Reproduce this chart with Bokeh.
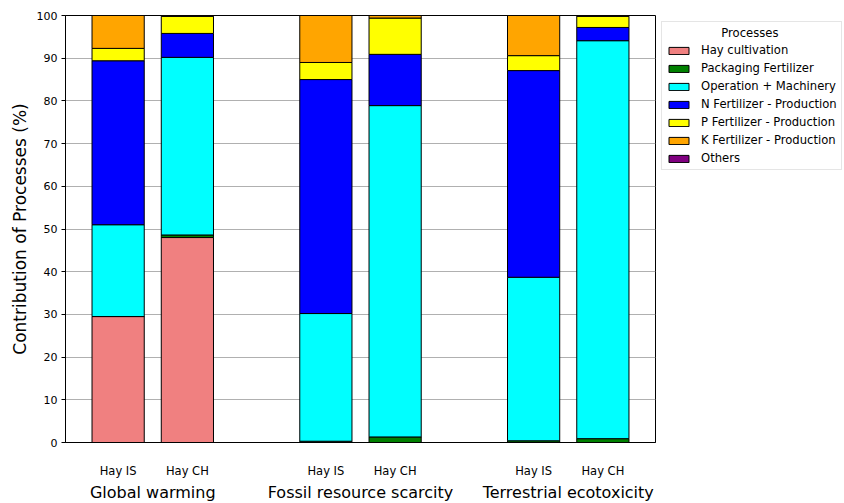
from bokeh.plotting import figure
from bokeh.models import FactorRange, Legend, FixedTicker, ColumnDataSource
from bokeh.embed import file_html
from bokeh.resources import INLINE

# Impact categories and the two hay systems compared in each
categories = ["Global warming", "Fossil resource scarcity", "Terrestrial ecotoxicity"]
systems = ["Hay IS", "Hay CH"]

# Process contributions (%), one value per (category, system) in order:
# GW-IS, GW-CH, FRS-IS, FRS-CH, TE-IS, TE-CH
hay_cultivation = [29.5, 48.0, 0.0, 0.0, 0.0, 0.0]
packaging_fertilizer = [0.0, 0.6, 0.3, 1.3, 0.4, 0.9]
operation_machinery = [21.5, 41.6, 29.9, 77.6, 38.3, 93.2]
n_fertilizer = [38.4, 5.6, 54.8, 12.0, 48.4, 3.1]
p_fertilizer = [2.9, 4.0, 4.0, 8.5, 3.5, 2.6]
k_fertilizer = [7.7, 0.2, 11.0, 0.6, 9.4, 0.2]
others = [0.0, 0.0, 0.0, 0.0, 0.0, 0.0]

processes = ["Hay cultivation", "Packaging Fertilizer", "Operation + Machinery",
             "N Fertilizer - Production", "P Fertilizer - Production",
             "K Fertilizer - Production", "Others"]
colors = ["#F08080", "#008000", "#00FFFF", "#0000FF", "#FFFF00", "#FFA500", "#800080"]

factors = [(c, s) for c in categories for s in systems]
keys = ["hay", "pack", "op", "n", "p", "k", "oth"]
source = ColumnDataSource(data=dict(
    x=factors, hay=hay_cultivation, pack=packaging_fertilizer, op=operation_machinery,
    n=n_fertilizer, p=p_fertilizer, k=k_fertilizer, oth=others))

x_range = FactorRange(*factors, factor_padding=0.0, group_padding=1.0,
                      range_padding=0.26, range_padding_units="absolute")

p = figure(frame_width=590, frame_height=427, x_range=x_range, y_range=(0, 100),
           output_backend="svg", toolbar_location=None,
           min_border_left=65, min_border_top=15, min_border_bottom=0,
           min_border_right=0)

renderers = p.vbar_stack(keys, x="x", width=0.754, source=source, color=colors,
                         line_color="black", line_width=1)

# the legend title is always drawn left-aligned; non-breaking spaces centre it
legend_title = "\u00a0" * 15 + "Processes"
legend = Legend(items=[(name, [r]) for name, r in zip(processes, renderers)],
                title=legend_title, location="top_left", margin=6,
                padding=4, spacing=4, glyph_width=25, glyph_height=9,
                label_height=14, label_standoff=10,
                label_text_font="DejaVu Sans", label_text_font_size="11.6px",
                label_text_color="black",
                title_text_font="DejaVu Sans", title_text_font_size="11.6px",
                title_text_font_style="normal", title_text_color="black",
                title_standoff=3,
                border_line_color="#cccccc", border_line_width=1,
                background_fill_color="white")
p.add_layout(legend, "right")

p.xgrid.grid_line_color = None
p.ygrid.grid_line_color = "#b0b0b0"
p.ygrid.grid_line_width = 1
p.outline_line_color = "black"
p.outline_line_width = 1

p.yaxis.ticker = FixedTicker(ticks=list(range(0, 101, 10)))
p.yaxis.axis_label = "Contribution of Processes (%)"
p.yaxis.axis_label_text_font = "DejaVu Sans"
p.yaxis.axis_label_text_font_size = "17px"
p.yaxis.axis_label_text_font_style = "normal"
p.yaxis.axis_label_text_color = "black"
p.yaxis.axis_label_standoff = 4
p.yaxis.major_label_text_font = "DejaVu Sans"
p.yaxis.major_label_text_font_size = "11px"
p.yaxis.major_label_text_color = "black"
p.yaxis.major_label_standoff = 4
p.yaxis.major_tick_out = 4
p.yaxis.major_tick_in = 0
p.yaxis.major_tick_line_color = "black"
p.yaxis.minor_tick_line_color = None
p.yaxis.axis_line_color = "black"

p.xaxis.major_tick_line_color = None
p.xaxis.minor_tick_line_color = None
p.xaxis.major_tick_out = 19
p.xaxis.major_tick_in = 0
p.xaxis.axis_line_color = "black"
p.xaxis.separator_line_alpha = 0
p.xaxis.major_label_text_font = "DejaVu Sans"
p.xaxis.major_label_text_font_size = "11.5px"
p.xaxis.major_label_text_color = "black"
p.xaxis.major_label_standoff = 2
p.xaxis.group_text_font = "DejaVu Sans"
p.xaxis.group_text_font_size = "16px"
p.xaxis.group_text_font_style = "normal"
p.xaxis.group_text_color = "black"
p.xaxis.group_label_orientation = "horizontal"

open("out.html", "w").write(file_html(p, INLINE))
